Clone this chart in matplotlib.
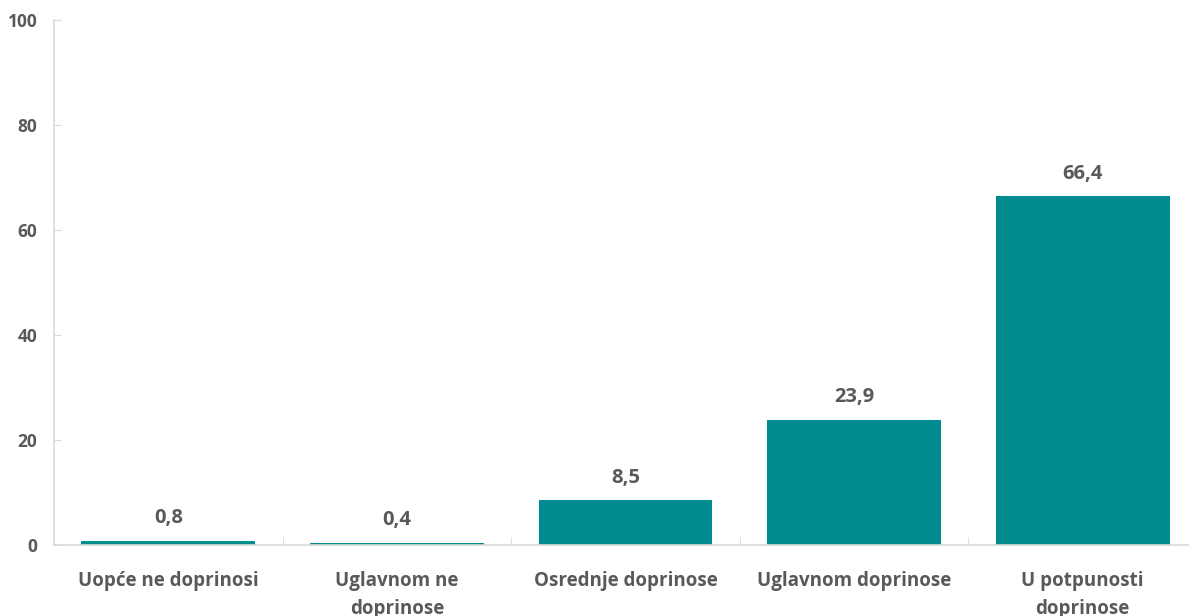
import matplotlib
matplotlib.use("Agg")
import matplotlib.pyplot as plt
from matplotlib.ticker import FixedLocator

categories = ["Uopće ne doprinosi", "Uglavnom ne\ndoprinose", "Osrednje doprinose",
              "Uglavnom doprinose", "U potpunosti\ndoprinose"]
values = [0.8, 0.4, 8.5, 23.9, 66.4]
value_labels = ["0,8", "0,4", "8,5", "23,9", "66,4"]
yticks = [0, 20, 40, 60, 80, 100]

plt.rcParams['font.family'] = ['Open Sans', 'DejaVu Sans']
text_color = "#595959"
bar_color = "#008C8F"
spine_color = "#D9D9D9"

fig = plt.figure(figsize=(11.89, 6.16), dpi=100)
W, H = 1189, 616
ax = fig.add_axes([54 / W, 71 / H, (1197 - 54) / W, (545 - 20) / H])

x = list(range(len(categories)))
bars = ax.bar(x, values, width=0.76, color=bar_color, zorder=2)
for xi, v, lab in zip(x, values, value_labels):
    ax.annotate(lab, (xi, v), xytext=(0, 9), textcoords="offset points",
                ha="center", va="bottom", fontsize=14.5, fontweight="bold", color=text_color)

ax.set_xlim(-0.5, len(categories) - 0.5)
ax.set_ylim(0, 100)
ax.set_yticks(yticks)
ax.set_yticklabels([str(t) for t in yticks])
ax.set_xticks(x)
ax.set_xticklabels(categories, linespacing=1.5)
ax.xaxis.set_minor_locator(FixedLocator([i + 0.5 for i in range(len(categories) - 1)]))

for s in ["top", "right"]:
    ax.spines[s].set_visible(False)
for s in ["left", "bottom"]:
    ax.spines[s].set_color(spine_color)
    ax.spines[s].set_linewidth(1.2)

ax.tick_params(axis="y", direction="in", length=5, color=spine_color, pad=12,
               labelsize=12.5, labelcolor=text_color)
ax.tick_params(axis="x", which="major", length=0, pad=19, labelsize=13.5, labelcolor=text_color)
ax.tick_params(axis="x", which="minor", direction="in", length=6, color=spine_color)
for lbl in ax.get_xticklabels() + ax.get_yticklabels():
    lbl.set_fontweight("bold")

fig.savefig("out.png", dpi=100)
